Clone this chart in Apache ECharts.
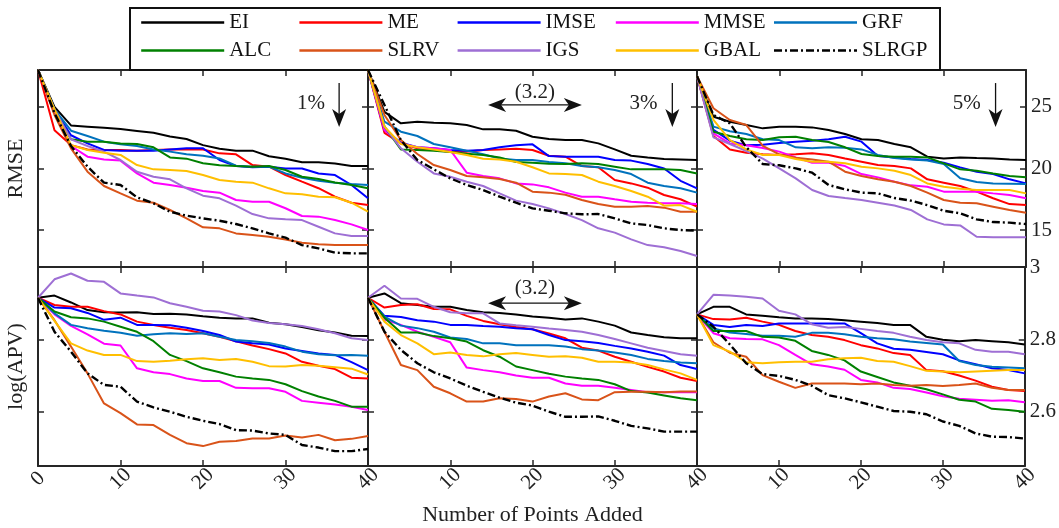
<!DOCTYPE html>
<html>
<head>
<meta charset="utf-8">
<script src="https://cdn.jsdelivr.net/npm/echarts@6/dist/echarts.min.js"></script>
<style>
  html, body { margin: 0; padding: 0; background: #ffffff; }
  #chart { width: 1059px; height: 528px; }
</style>
</head>
<body>
<div id="chart"></div>
<script>
// Sampling design comparison: RMSE and log(APV) against number of points added,
// for three noise levels (1%, 3%, 5%).

const METHODS = ['EI', 'ME', 'IMSE', 'MMSE', 'GRF', 'ALC', 'SLRV', 'IGS', 'GBAL', 'SLRGP'];
const COLORS  = ['#000000', '#FF0000', '#0000FF', '#FF00FF', '#0072BD', '#008000', '#D95319', '#9E6FD4', '#FFBF00', '#000000'];

// Number of points added (every second iteration)
const STEPS = [0, 2, 4, 6, 8, 10, 12, 14, 16, 18, 20, 22, 24, 26, 28, 30, 32, 34, 36, 38, 40];

const RMSE_TICKS = [15, 20, 25];
const APV_TICKS = [2.6, 2.8, 3];
const NOISE_LABELS = ['1%', '3%', '5%'];

// RMSE, 1% noise (rows follow METHODS)
const rmse1 = [
  [28, 25.0, 23.5, 23.4, 23.3, 23.2, 23.05, 22.9, 22.6, 22.4, 21.9, 21.6, 21.45, 21.45, 21.0, 20.8, 20.5, 20.5, 20.4, 20.2, 20.2],
  [28, 23.1, 21.9, 21.55, 21.5, 21.5, 21.45, 21.5, 21.55, 21.55, 21.55, 21.23, 21.15, 20.28, 20.15, 19.47, 18.93, 18.4, 17.71, 17.22, 17.03],
  [28, 24.8, 22.7, 22.04, 21.5, 21.45, 21.45, 21.45, 21.55, 21.64, 21.64, 20.69, 20.2, 20.1, 20.15, 20.0, 20.0, 19.6, 19.47, 18.66, 17.58],
  [28, 24.5, 21.83, 20.96, 20.74, 20.64, 19.6, 18.85, 18.66, 18.44, 18.17, 18.04, 17.44, 17.3, 17.3, 16.77, 16.14, 16.09, 15.81, 15.46, 15.0],
  [28, 24.8, 23.07, 22.64, 22.18, 21.96, 21.83, 21.55, 21.37, 21.15, 21.04, 20.82, 20.23, 20.15, 20.15, 19.6, 19.25, 19.0, 18.85, 18.74, 18.66],
  [28, 24.8, 22.37, 22.18, 22.18, 22.04, 21.99, 21.72, 20.9, 20.8, 20.42, 20.26, 20.2, 20.15, 20.2, 19.88, 19.33, 19.15, 18.87, 18.66, 18.39],
  [28, 24.35, 21.64, 19.74, 18.58, 17.98, 17.39, 17.22, 16.63, 15.95, 15.22, 15.14, 14.73, 14.6, 14.46, 14.24, 13.97, 13.84, 13.78, 13.78, 13.78],
  [28, 24.8, 22.37, 21.83, 21.37, 20.69, 19.74, 19.33, 19.12, 18.39, 17.79, 17.58, 16.98, 16.3, 15.95, 15.87, 15.81, 15.27, 14.73, 14.52, 14.52],
  [28, 24.8, 21.9, 21.5, 21.28, 21.1, 20.28, 19.93, 19.88, 19.8, 19.47, 19.06, 18.93, 18.85, 18.39, 17.98, 17.9, 17.71, 17.66, 17.22, 16.49],
  [28, 24.5, 21.83, 20.15, 18.85, 18.66, 17.66, 17.17, 16.49, 16.17, 15.95, 15.76, 15.49, 15.14, 14.73, 14.38, 13.78, 13.51, 13.16, 13.11, 13.11]
];

// RMSE, 3% noise
const rmse3 = [
  [28, 24.6, 23.67, 23.8, 23.72, 23.67, 23.53, 23.18, 23.18, 23.07, 22.58, 22.4, 22.31, 22.31, 22.04, 21.55, 21.04, 20.9, 20.77, 20.74, 20.69],
  [28, 22.9, 22.04, 21.64, 21.5, 21.37, 21.37, 21.5, 21.55, 21.61, 21.5, 21.04, 20.96, 20.2, 20.1, 19.06, 18.79, 18.44, 17.85, 17.5, 16.9],
  [28, 23.13, 22.1, 21.72, 21.64, 21.5, 21.45, 21.5, 21.72, 21.88, 21.96, 21.01, 20.96, 20.96, 20.96, 20.69, 20.64, 20.36, 20.0, 19.0, 18.39],
  [28, 23.1, 22.04, 21.72, 21.64, 21.5, 19.66, 19.39, 19.2, 18.79, 18.71, 18.47, 18.04, 17.71, 17.71, 17.5, 17.3, 17.22, 17.17, 17.17, 17.11],
  [28, 23.8, 22.99, 22.64, 21.99, 21.72, 21.45, 21.15, 20.82, 20.69, 20.69, 20.53, 20.42, 20.2, 20.1, 19.88, 19.55, 18.85, 18.58, 18.39, 18.04],
  [28, 23.4, 21.55, 21.5, 21.45, 21.34, 21.2, 21.1, 20.9, 20.53, 20.47, 20.39, 20.36, 20.42, 20.36, 20.15, 19.93, 19.93, 19.93, 19.88, 19.6],
  [28, 24.35, 22.31, 21.18, 20.28, 19.88, 19.39, 19.28, 19.15, 18.85, 18.12, 18.04, 17.87, 17.44, 17.11, 16.9, 16.9, 16.95, 16.82, 16.49, 16.49],
  [28, 23.4, 21.64, 20.55, 19.6, 19.33, 18.93, 18.58, 17.98, 17.39, 17.11, 16.76, 16.3, 15.81, 15.14, 14.79, 14.24, 13.78, 13.6, 13.3, 12.9],
  [28, 23.4, 21.99, 21.72, 21.55, 21.34, 21.1, 20.8, 20.74, 20.55, 20.1, 19.6, 19.55, 19.47, 18.93, 18.58, 18.17, 17.71, 16.98, 17.03, 16.49],
  [28, 25.16, 22.31, 20.69, 19.93, 19.2, 18.66, 18.25, 17.71, 17.22, 16.76, 16.57, 16.36, 16.28, 16.3, 15.95, 15.54, 15.41, 15.14, 15.0, 14.95]
];

// RMSE, 5% noise
const rmse5 = [
  [27.5, 24.2, 23.8, 23.53, 23.26, 23.4, 23.4, 23.34, 23.13, 22.8, 22.37, 22.31, 21.99, 21.72, 20.96, 20.82, 20.9, 20.85, 20.82, 20.74, 20.69],
  [27.5, 22.64, 21.55, 21.28, 21.15, 21.1, 21.15, 21.23, 21.1, 20.82, 20.55, 20.28, 20.2, 20.01, 19.12, 18.85, 18.58, 18.12, 17.58, 17.11, 17.03],
  [27.5, 23.13, 22.26, 21.88, 21.93, 22.07, 22.18, 22.26, 22.37, 22.58, 22.18, 21.01, 20.9, 20.77, 20.69, 20.47, 20.09, 19.74, 19.55, 19.12, 18.79],
  [27.5, 22.86, 22.04, 21.88, 21.66, 21.37, 20.9, 20.47, 20.47, 20.2, 19.55, 19.28, 18.93, 18.63, 18.52, 18.12, 18.12, 18.12, 17.98, 17.85, 17.58],
  [27.5, 23.4, 23.02, 22.8, 22.37, 22.31, 21.72, 21.64, 21.72, 21.69, 21.55, 21.1, 20.85, 20.74, 20.64, 20.36, 19.2, 18.9, 18.79, 18.77, 18.74],
  [27.5, 22.99, 22.64, 22.37, 22.31, 22.53, 22.58, 22.31, 22.15, 21.72, 21.18, 21.01, 20.96, 20.96, 20.9, 20.42, 19.93, 19.82, 19.6, 19.39, 19.28],
  [27.5, 24.89, 23.94, 23.53, 21.83, 21.15, 20.88, 20.74, 20.55, 19.74, 19.39, 19.12, 18.93, 18.58, 18.04, 17.44, 17.22, 17.17, 16.9, 16.63, 16.41],
  [27.5, 22.53, 21.99, 21.42, 20.8, 20.01, 19.2, 18.25, 17.77, 17.6, 17.44, 17.22, 17.0, 16.63, 15.87, 15.46, 15.38, 14.46, 14.41, 14.41, 14.41],
  [27.5, 23.94, 22.31, 21.55, 21.1, 21.1, 20.77, 20.55, 20.55, 20.42, 20.15, 20.01, 19.82, 19.47, 18.79, 18.52, 18.36, 18.25, 18.25, 18.25, 17.98],
  [27.5, 24.34, 23.67, 21.72, 20.36, 20.26, 20.01, 19.66, 18.66, 18.31, 18.04, 17.98, 17.6, 17.39, 17.03, 16.57, 16.36, 15.87, 15.65, 15.6, 15.49]
];

// log(APV), 1% noise
const apv1 = [
  [2.915, 2.921, 2.902, 2.881, 2.875, 2.874, 2.875, 2.87, 2.871, 2.869, 2.864, 2.86, 2.858, 2.858, 2.846, 2.842, 2.834, 2.825, 2.819, 2.81, 2.809],
  [2.915, 2.895, 2.89, 2.89, 2.878, 2.869, 2.849, 2.84, 2.832, 2.826, 2.817, 2.807, 2.795, 2.783, 2.773, 2.761, 2.738, 2.727, 2.718, 2.694, 2.692],
  [2.915, 2.888, 2.886, 2.873, 2.854, 2.86, 2.84, 2.84, 2.839, 2.832, 2.823, 2.812, 2.794, 2.789, 2.786, 2.775, 2.768, 2.761, 2.757, 2.737, 2.715],
  [2.915, 2.869, 2.837, 2.814, 2.788, 2.783, 2.72, 2.709, 2.704, 2.692, 2.685, 2.685, 2.666, 2.665, 2.665, 2.655, 2.63, 2.625, 2.62, 2.614, 2.605],
  [2.915, 2.872, 2.84, 2.831, 2.824, 2.818, 2.81, 2.814, 2.817, 2.815, 2.817, 2.807, 2.798, 2.795, 2.79, 2.78, 2.766, 2.759, 2.756, 2.757, 2.755],
  [2.915, 2.877, 2.861, 2.858, 2.849, 2.835, 2.821, 2.795, 2.757, 2.74, 2.72, 2.709, 2.697, 2.692, 2.688, 2.676, 2.657, 2.642, 2.63, 2.614, 2.614],
  [2.915, 2.853, 2.78, 2.706, 2.623, 2.596, 2.565, 2.563, 2.536, 2.513, 2.505, 2.517, 2.519, 2.526, 2.526, 2.534, 2.529, 2.536, 2.521, 2.525, 2.533],
  [2.915, 2.966, 2.982, 2.962, 2.959, 2.927, 2.921, 2.916, 2.9, 2.89, 2.879, 2.877, 2.867, 2.852, 2.845, 2.842, 2.837, 2.828, 2.817, 2.803, 2.798],
  [2.915, 2.851, 2.789, 2.769, 2.757, 2.757, 2.74, 2.738, 2.741, 2.745, 2.748, 2.743, 2.746, 2.738, 2.726, 2.725, 2.729, 2.727, 2.723, 2.719, 2.703],
  [2.915, 2.821, 2.766, 2.706, 2.674, 2.669, 2.628, 2.612, 2.6, 2.586, 2.575, 2.566, 2.549, 2.548, 2.54, 2.536, 2.508, 2.501, 2.491, 2.491, 2.497]
];

// log(APV), 3% noise
const apv3 = [
  [2.915, 2.927, 2.9, 2.895, 2.89, 2.89, 2.881, 2.875, 2.873, 2.869, 2.863, 2.86, 2.855, 2.858, 2.849, 2.838, 2.819, 2.812, 2.806, 2.803, 2.803],
  [2.915, 2.888, 2.895, 2.897, 2.884, 2.883, 2.865, 2.851, 2.842, 2.834, 2.828, 2.816, 2.803, 2.777, 2.769, 2.752, 2.738, 2.724, 2.711, 2.694, 2.685],
  [2.915, 2.865, 2.862, 2.853, 2.849, 2.84, 2.84, 2.837, 2.835, 2.831, 2.828, 2.812, 2.798, 2.795, 2.79, 2.782, 2.775, 2.766, 2.755, 2.729, 2.718],
  [2.915, 2.855, 2.84, 2.821, 2.807, 2.792, 2.722, 2.715, 2.709, 2.7, 2.694, 2.694, 2.678, 2.672, 2.672, 2.666, 2.66, 2.654, 2.654, 2.654, 2.654],
  [2.915, 2.863, 2.838, 2.831, 2.821, 2.805, 2.801, 2.789, 2.789, 2.784, 2.784, 2.784, 2.78, 2.773, 2.769, 2.764, 2.757, 2.746, 2.74, 2.736, 2.734],
  [2.915, 2.86, 2.819, 2.819, 2.809, 2.803, 2.794, 2.77, 2.752, 2.725, 2.715, 2.705, 2.697, 2.692, 2.688, 2.676, 2.657, 2.653, 2.645, 2.637, 2.632],
  [2.915, 2.821, 2.729, 2.715, 2.669, 2.651, 2.628, 2.628, 2.637, 2.635, 2.628, 2.642, 2.651, 2.634, 2.632, 2.654, 2.655, 2.655, 2.654, 2.656, 2.656],
  [2.915, 2.948, 2.913, 2.912, 2.89, 2.875, 2.872, 2.872, 2.844, 2.839, 2.835, 2.83, 2.826, 2.821, 2.812, 2.801, 2.789, 2.777, 2.768, 2.759, 2.755],
  [2.915, 2.849, 2.812, 2.789, 2.759, 2.764, 2.757, 2.753, 2.759, 2.762, 2.757, 2.752, 2.753, 2.749, 2.738, 2.738, 2.736, 2.729, 2.717, 2.706, 2.688],
  [2.915, 2.821, 2.771, 2.734, 2.709, 2.692, 2.672, 2.655, 2.639, 2.625, 2.617, 2.6, 2.586, 2.586, 2.587, 2.575, 2.561, 2.554, 2.545, 2.545, 2.545]
];

// log(APV), 5% noise
const apv5 = [
  [2.869, 2.89, 2.89, 2.869, 2.865, 2.861, 2.858, 2.858, 2.856, 2.853, 2.849, 2.845, 2.84, 2.84, 2.807, 2.799, 2.795, 2.798, 2.795, 2.792, 2.786],
  [2.869, 2.856, 2.855, 2.86, 2.849, 2.84, 2.823, 2.812, 2.807, 2.798, 2.784, 2.775, 2.762, 2.757, 2.715, 2.712, 2.7, 2.686, 2.669, 2.66, 2.657],
  [2.869, 2.84, 2.834, 2.84, 2.837, 2.844, 2.844, 2.844, 2.844, 2.844, 2.817, 2.789, 2.774, 2.771, 2.765, 2.759, 2.742, 2.731, 2.72, 2.715, 2.706],
  [2.869, 2.817, 2.803, 2.801, 2.8, 2.784, 2.757, 2.731, 2.725, 2.716, 2.688, 2.681, 2.666, 2.663, 2.653, 2.643, 2.636, 2.633, 2.63, 2.632, 2.626],
  [2.869, 2.83, 2.819, 2.815, 2.81, 2.81, 2.807, 2.818, 2.818, 2.814, 2.807, 2.803, 2.8, 2.794, 2.79, 2.786, 2.74, 2.729, 2.724, 2.722, 2.72],
  [2.869, 2.823, 2.823, 2.823, 2.807, 2.805, 2.796, 2.768, 2.757, 2.742, 2.711, 2.696, 2.681, 2.672, 2.662, 2.648, 2.633, 2.628, 2.608, 2.605, 2.6],
  [2.869, 2.792, 2.763, 2.752, 2.701, 2.683, 2.666, 2.678, 2.678, 2.678, 2.676, 2.678, 2.674, 2.672, 2.674, 2.671, 2.674, 2.678, 2.666, 2.66, 2.66],
  [2.869, 2.923, 2.921, 2.918, 2.913, 2.879, 2.869, 2.842, 2.832, 2.834, 2.829, 2.823, 2.818, 2.807, 2.798, 2.792, 2.789, 2.771, 2.766, 2.766, 2.759],
  [2.869, 2.784, 2.766, 2.737, 2.734, 2.737, 2.738, 2.738, 2.745, 2.748, 2.749, 2.74, 2.738, 2.726, 2.713, 2.711, 2.709, 2.711, 2.713, 2.715, 2.715],
  [2.869, 2.835, 2.786, 2.734, 2.704, 2.699, 2.688, 2.672, 2.646, 2.637, 2.626, 2.614, 2.602, 2.6, 2.593, 2.573, 2.561, 2.54, 2.531, 2.53, 2.526]
];

const PANELS = [rmse1, rmse3, rmse5, apv1, apv3, apv5];

// ---- layout and styling ----
const FONT = '"Liberation Serif", "DejaVu Serif", serif';
const AXIS_COLOR = '#262626';
const COL_LEFT = [38, 368, 697];
const COL_WIDTH = [330, 329, 329];
const ROW_TOP = [70, 267];
const ROW_HEIGHT = [197, 199];
const Y_RANGE = [[12, 28], [2.45, 3]];

const chart = echarts.init(document.getElementById('chart'), null, { renderer: 'canvas' });

const grid = [], xAxis = [], yAxis = [], series = [];

for (let r = 0; r < 2; r++) {
  for (let c = 0; c < 3; c++) {
    const gi = r * 3 + c;
    grid.push({ left: COL_LEFT[c], top: ROW_TOP[r], width: COL_WIDTH[c], height: ROW_HEIGHT[r], show: false });

    const lineStyle = { color: AXIS_COLOR, width: 2 };
    const tickStyle = { color: AXIS_COLOR, width: 1.5 };
    const labelFont = { fontFamily: FONT, fontSize: 21, color: '#222' };

    ['bottom', 'top'].forEach(function (pos) {
      const ax = {
        type: 'value', gridIndex: gi, position: pos, min: 0, max: 40, interval: 10,
        axisLine: { show: true, onZero: false, lineStyle: lineStyle },
        axisTick: { show: true, inside: true, length: 6, lineStyle: tickStyle },
        splitLine: { show: false },
        axisLabel: { show: false }
      };
      if (pos === 'bottom' && r === 1) {
        ax.axisLabel = Object.assign({
          show: true, rotate: 45, margin: 13, align: 'center', verticalAlign: 'middle',
          showMinLabel: c === 0, showMaxLabel: true
        }, labelFont);
        if (c === 1) {
          ax.name = 'Number of Points Added';
          ax.nameLocation = 'middle';
          ax.nameGap = 38;
          ax.nameTextStyle = { fontFamily: FONT, fontSize: 22, color: '#222' };
        }
      }
      xAxis.push(ax);
    });

    const ticks = r === 0 ? RMSE_TICKS : APV_TICKS;
    ['left', 'right'].forEach(function (pos) {
      const ay = {
        type: 'value', gridIndex: gi, position: pos,
        min: Y_RANGE[r][0], max: Y_RANGE[r][1],
        axisLine: { show: true, onZero: false, lineStyle: lineStyle },
        axisTick: { show: true, inside: true, length: 6, lineStyle: tickStyle, customValues: ticks },
        splitLine: { show: false },
        axisLabel: { show: false, customValues: ticks }
      };
      if (pos === 'right' && c === 2) {
        ay.axisLabel = Object.assign({ show: true, margin: 5, customValues: ticks,
          formatter: function (v) { return String(+v.toFixed(2)); } }, labelFont);
      }
      if (pos === 'left' && c === 0) {
        ay.name = r === 0 ? 'RMSE' : 'log(APV)';
        ay.nameLocation = 'middle';
        ay.nameRotate = 90;
        ay.nameGap = 11;
        ay.nameTextStyle = { fontFamily: FONT, fontSize: 22, color: '#222' };
      }
      yAxis.push(ay);
    });

    const rows = PANELS[gi];
    METHODS.forEach(function (name, k) {
      series.push({
        name: name,
        type: 'line',
        xAxisIndex: gi * 2,
        yAxisIndex: gi * 2,
        data: STEPS.map(function (s, i) { return [s, rows[k][i]]; }),
        symbol: 'none',
        silent: true,
        clip: true,
        color: COLORS[k],
        lineStyle: {
          color: COLORS[k],
          width: name === 'SLRGP' ? 2.4 : 2,
          type: name === 'SLRGP' ? [8, 3, 2, 3] : 'solid'
        },
        z: 2 + k
      });
    });
  }
}

chart.setOption({
  animation: false,
  backgroundColor: '#ffffff',
  grid: grid,
  xAxis: xAxis,
  yAxis: yAxis,
  legend: {
    data: METHODS,
    left: 140,
    top: 10,
    width: 790,
    padding: 0,
    itemWidth: 83,
    itemHeight: 14,
    itemGap: 3,
    selectedMode: false,
    itemStyle: { opacity: 0 },
    lineStyle: { width: 2.4 },
    textStyle: { fontFamily: FONT, fontSize: 21, color: '#111', width: 66, lineHeight: 25 }
  },
  series: series
});

// ---- annotations: noise level markers and span arrows ----
function toPx(gi, x, y) { return chart.convertToPixel({ gridIndex: gi }, [x, y]); }

const NOISE_MARKS = [
  { grid: 0, textX: 33.1, arrowX: 36.5 },
  { grid: 1, textX: 33.5, arrowX: 37.0 },
  { grid: 2, textX: 32.8, arrowX: 36.3 }
];
const SPAN_MARKS = [
  { grid: 1, from: 14.6, to: 26.0, y: 25.16, labelY: 26.2 },
  { grid: 4, from: 14.6, to: 26.0, y: 2.9, labelY: 2.942 }
];

const graphics = [];
graphics.push({
  type: 'rect', shape: { x: 130, y: 8, width: 810, height: 62 },
  style: { fill: 'none', stroke: '#111', lineWidth: 2 }, z: 10
});

NOISE_MARKS.forEach(function (m, i) {
  const t = toPx(m.grid, m.textX, 25.3);
  const top = toPx(m.grid, m.arrowX, 26.94);
  const tip = toPx(m.grid, m.arrowX, 23.37);
  graphics.push({ type: 'text', x: t[0], y: t[1], z: 10,
    style: { text: NOISE_LABELS[i], font: '21px ' + FONT, fill: '#222', align: 'center', verticalAlign: 'middle' } });
  graphics.push({ type: 'line', z: 10, shape: { x1: top[0], y1: top[1], x2: tip[0], y2: tip[1] - 10 },
    style: { stroke: '#111', lineWidth: 1.3 } });
  graphics.push({ type: 'polygon', z: 10,
    shape: { points: [[tip[0], tip[1]], [tip[0] - 7, tip[1] - 18], [tip[0], tip[1] - 13], [tip[0] + 7, tip[1] - 18]] },
    style: { fill: '#111' } });
});

SPAN_MARKS.forEach(function (m) {
  const a = toPx(m.grid, m.from, m.y);
  const b = toPx(m.grid, m.to, m.y);
  const t = toPx(m.grid, (m.from + m.to) / 2, m.labelY);
  graphics.push({ type: 'line', z: 10, shape: { x1: a[0] + 10, y1: a[1], x2: b[0] - 10, y2: b[1] },
    style: { stroke: '#111', lineWidth: 1.3 } });
  graphics.push({ type: 'polygon', z: 10,
    shape: { points: [[a[0], a[1]], [a[0] + 18, a[1] - 7], [a[0] + 13, a[1]], [a[0] + 18, a[1] + 7]] },
    style: { fill: '#111' } });
  graphics.push({ type: 'polygon', z: 10,
    shape: { points: [[b[0], b[1]], [b[0] - 18, b[1] - 7], [b[0] - 13, b[1]], [b[0] - 18, b[1] + 7]] },
    style: { fill: '#111' } });
  graphics.push({ type: 'text', x: t[0], y: t[1], z: 10,
    style: { text: '(3.2)', font: '21px ' + FONT, fill: '#222', align: 'center', verticalAlign: 'middle' } });
});

chart.setOption({ graphic: graphics });
</script>
</body>
</html>
